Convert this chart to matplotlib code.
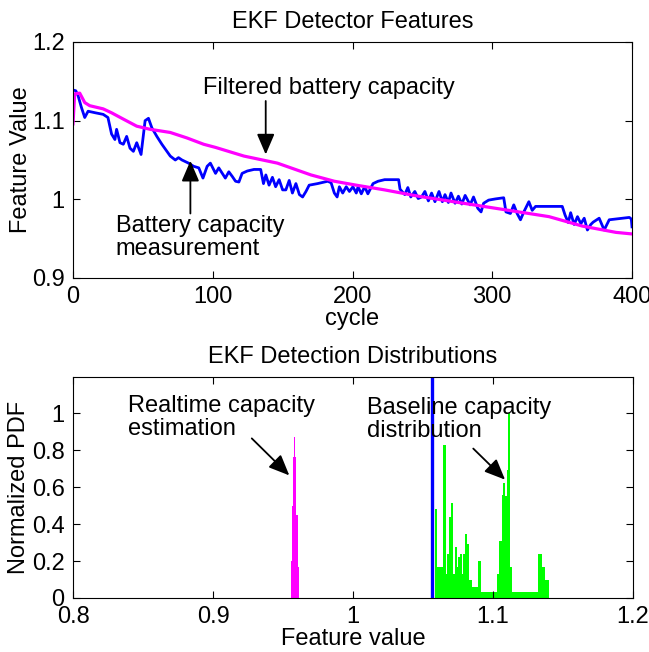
import numpy as np
import matplotlib
matplotlib.use("Agg")
import matplotlib.pyplot as plt

plt.rcParams['font.family'] = ['Liberation Sans', 'DejaVu Sans']
plt.rcParams['font.size'] = 17

# --- top panel: capacity measurement vs. filtered estimate ---
meas_cycle = [0, 2, 3.6, 6, 8.4, 10.8, 16, 21.6, 25, 27.6, 30, 31.2, 33.6, 36, 38.4,
              40.8, 43.2, 45.6, 48.7, 51.6, 54, 56.4, 60, 63.6, 67.2, 69.6, 73.2, 75.5,
              78, 82.7, 86.3, 90, 93, 96, 98.3, 102, 104.3, 106.8, 109, 111.5, 114,
              116.3, 118.7, 121, 124.7, 129.5, 134.3, 136.3, 138, 140.3, 142.7, 145,
              147.5, 150, 152.3, 154.7, 157, 159.5, 162, 164.3, 166.7, 169, 175, 182.3,
              184.7, 187, 189, 190.6, 193, 195.5, 197.8, 200.3, 202.7, 204, 206.3,
              208.7, 211, 214.7, 218.3, 223, 233, 234, 237.4, 239.6, 241.7, 244.6, 247,
              249.4, 251.8, 254.3, 256.6, 259, 261.9, 264.3, 266.2, 268.6, 270.5,
              273.4, 275.8, 278.2, 280.6, 284.2, 286.6, 289.7, 292, 293.8, 297.4,
              302.2, 308.2, 309.8, 313, 315.4, 317.8, 320.2, 322.6, 326.2, 328.6, 331,
              335, 345, 350.1, 352.1, 354.4, 356.1, 358.6, 361, 363.4, 365.8, 368.1,
              370.5, 372.2, 376.5, 380.1, 383.7, 388.5, 398.1, 399.5, 400]
meas_value = [1.139, 1.138, 1.132, 1.117, 1.104, 1.112, 1.110, 1.108, 1.104, 1.083,
              1.076, 1.089, 1.072, 1.070, 1.080, 1.065, 1.061, 1.072, 1.057, 1.100,
              1.103, 1.091, 1.080, 1.070, 1.061, 1.055, 1.050, 1.053, 1.050, 1.046,
              1.042, 1.040, 1.027, 1.042, 1.046, 1.033, 1.040, 1.033, 1.027, 1.035,
              1.029, 1.023, 1.022, 1.033, 1.036, 1.038, 1.038, 1.020, 1.031, 1.018,
              1.028, 1.016, 1.025, 1.012, 1.012, 1.024, 1.008, 1.020, 1.006, 1.003,
              1.010, 1.018, 1.020, 1.023, 1.021, 1.008, 1.003, 1.016, 1.008, 1.016,
              1.010, 1.016, 1.008, 1.016, 1.007, 1.016, 1.007, 1.020, 1.023, 1.025,
              1.025, 1.013, 1.006, 1.015, 1.003, 1.010, 1.001, 1.003, 1.010, 0.998,
              1.008, 0.997, 1.010, 0.997, 1.006, 0.996, 1.008, 0.995, 1.004, 0.994,
              1.005, 0.993, 1.003, 0.9885, 0.984, 0.995, 0.999, 1.0005, 1.002, 0.984,
              0.982, 0.993, 0.982, 0.974, 0.984, 0.997, 0.986, 0.991, 0.991, 0.991,
              0.991, 0.980, 0.9705, 0.983, 0.968, 0.978, 0.969, 0.976, 0.961, 0.968,
              0.971, 0.976, 0.961, 0.974, 0.975, 0.977, 0.975, 0.965]

filt_cycle = [0, 1.2, 4.8, 8.4, 12, 21.6, 27.6, 36, 45.6, 55.2, 69.6, 81.6, 93.5, 102,
              122.3, 146.3, 170.3, 187, 202.7, 223, 247, 268.6, 304.6, 340.6, 364.5,
              388.5, 400]
filt_value = [1.096, 1.134, 1.135, 1.123, 1.119, 1.115, 1.110, 1.102, 1.093, 1.089,
              1.085, 1.078, 1.070, 1.066, 1.055, 1.046, 1.031, 1.023, 1.018, 1.012,
              1.004, 0.998, 0.988, 0.978, 0.966, 0.958, 0.956]

# --- bottom panel: normalized PDFs ---
rt_edges = [0.9557, 0.9564, 0.9571, 0.9578, 0.9585, 0.9592, 0.9599, 0.9606, 0.9613]
rt_pdf = [0.2, 0.5, 0.76, 0.87, 0.76, 0.45, 0.45, 0.17]

base_edges = [1.0586, 1.0598, 1.0621, 1.0645, 1.0662, 1.0674, 1.0688, 1.0698, 1.0712,
              1.0729, 1.0741, 1.0752, 1.0764, 1.0776, 1.0788, 1.0802, 1.0817, 1.0831,
              1.0848, 1.0895, 1.0912, 1.0931, 1.1026, 1.1045, 1.1062, 1.1074, 1.1086,
              1.1098, 1.1109, 1.1121, 1.1133, 1.1324, 1.1348, 1.1371, 1.1400]
base_pdf = [0.483, 0.168, 0.17, 0.825, 0.13, 0.24, 0.44, 0.515, 0.13, 0.276, 0.17,
            0.22, 0.24, 0.13, 0.24, 0.344, 0.29, 0.095, 0.06, 0.2, 0.032, 0.032, 0.13,
            0.31, 0.555, 0.62, 0.55, 0.69, 1.0, 0.17, 0.032, 0.24, 0.17, 0.10]

threshold = 1.0565

W, H = 649, 652
fig = plt.figure(figsize=(W / 100, H / 100), dpi=100)

def px_axes(left, top, right, bottom):
    return fig.add_axes([left / W, 1 - bottom / H, (right - left) / W, (bottom - top) / H])

def style(ax):
    ax.tick_params(direction='in', top=True, right=True, length=5, width=0.8,
                   labelsize=17, pad=6)
    for s in ax.spines.values():
        s.set_linewidth(0.8)

arrow = dict(arrowstyle='-|>,head_length=0.7,head_width=0.3', color='k', lw=1.3,
             mutation_scale=18, shrinkA=0, shrinkB=0)

# top axes
ax1 = px_axes(73, 42, 632, 278)
ax1.plot(meas_cycle, meas_value, color=(0, 0, 1), lw=2)
ax1.plot(filt_cycle, filt_value, color=(1, 0, 1), lw=2.3)
ax1.set_xlim(0, 400)
ax1.set_ylim(0.9, 1.2)
ax1.set_xticks([0, 100, 200, 300, 400])
ax1.set_yticks([0.9, 1.0, 1.1, 1.2])
ax1.set_yticklabels(['0.9', '1', '1.1', '1.2'])
ax1.set_title('EKF Detector Features', fontsize=17, pad=10)
ax1.set_xlabel('cycle', labelpad=0)
ax1.set_ylabel('Feature Value', labelpad=0)
style(ax1)
ax1.text(93.3, 1.141, 'Filtered battery capacity', ha='left', va='center')
ax1.annotate('', xy=(137.9, 1.057), xytext=(137.9, 1.125), arrowprops=arrow)
ax1.text(30.7, 0.952, 'Battery capacity\nmeasurement', ha='left', va='center',
         linespacing=1.05)
ax1.annotate('', xy=(84, 1.049), xytext=(84, 0.982), arrowprops=arrow)

# bottom axes
ax2 = px_axes(73, 377, 633, 598)
ax2.stairs(rt_pdf, rt_edges, fill=True, color=(1, 0, 1))
ax2.stairs(base_pdf, base_edges, fill=True, color=(0, 1, 0))
ax2.axvline(threshold, color=(0, 0, 1), lw=2.4)
ax2.set_xlim(0.8, 1.2)
ax2.set_ylim(0, 1.195)
ax2.set_xticks([0.8, 0.9, 1.0, 1.1, 1.2])
ax2.set_xticklabels(['0.8', '0.9', '1', '1.1', '1.2'])
ax2.set_yticks([0, 0.2, 0.4, 0.6, 0.8, 1.0])
ax2.set_yticklabels(['0', '0.2', '0.4', '0.6', '0.8', '1'])
ax2.set_title('EKF Detection Distributions', fontsize=17, pad=10)
ax2.set_xlabel('Feature value', labelpad=0)
ax2.set_ylabel('Normalized PDF', labelpad=1)
style(ax2)
ax2.text(0.8396, 0.974, 'Realtime capacity\nestimation', ha='left', va='center',
         linespacing=1.05)
ax2.annotate('', xy=(0.9545, 0.663), xytext=(0.9277, 0.863), arrowprops=arrow)
ax2.text(1.0098, 0.965, 'Baseline capacity\ndistribution', ha='left', va='center',
         linespacing=1.05)
ax2.annotate('', xy=(1.1086, 0.64), xytext=(1.0859, 0.808), arrowprops=arrow)

fig.savefig('out.png', dpi=100)
